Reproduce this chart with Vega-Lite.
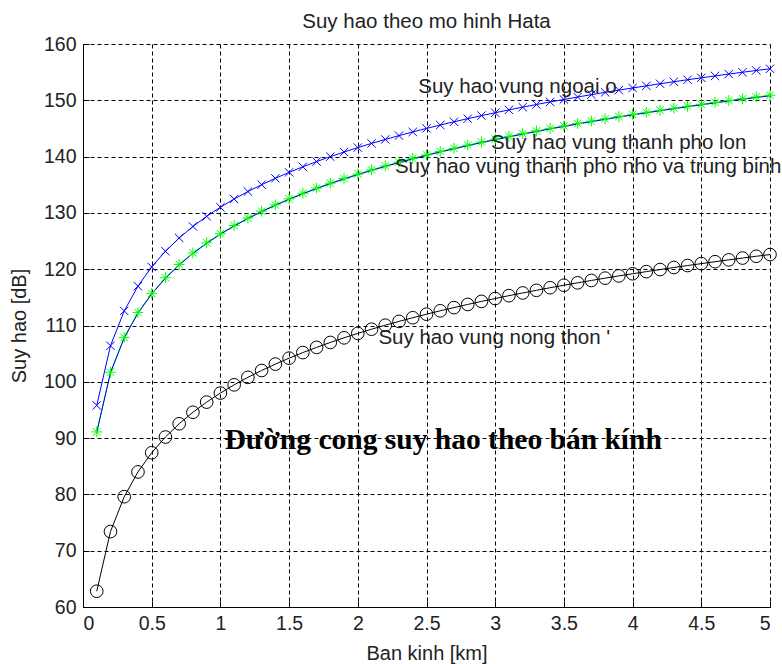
{
  "$schema": "https://vega.github.io/schema/vega-lite/v6.json",
  "width": 687,
  "height": 563,
  "autosize": {"type": "none"},
  "padding": {"left": 83, "top": 44, "right": 12, "bottom": 57},
  "background": "white",
  "title": {"text": "Suy hao theo mo hinh Hata", "font": "Liberation Sans", "fontSize": 20.5, "fontWeight": "normal", "color": "#222222", "offset": 2, "anchor": "middle"},
  "config": {
    "view": {"stroke": null},
    "axis": {
      "domainColor": "black", "domainWidth": 1, "tickColor": "black", "tickSize": -6,
      "labelFont": "Liberation Sans", "labelFontSize": 19.5, "labelColor": "#222222",
      "titleFont": "Liberation Sans", "titleFontSize": 20, "titleFontWeight": "normal", "titleColor": "#222222",
      "gridColor": "black", "gridDash": [4, 3], "gridOpacity": 1, "gridWidth": 1
    }
  },
  "datasets": {
    "curves": [
      {"d": 0.1, "ngoai": 95.8, "lon": 91.0, "nho": 91.1, "nong": 62.8},
      {"d": 0.2, "ngoai": 106.4, "lon": 101.6, "nho": 101.7, "nong": 73.4},
      {"d": 0.3, "ngoai": 112.59, "lon": 107.79, "nho": 107.89, "nong": 79.59},
      {"d": 0.4, "ngoai": 116.99, "lon": 112.19, "nho": 112.29, "nong": 83.99},
      {"d": 0.5, "ngoai": 120.4, "lon": 115.6, "nho": 115.7, "nong": 87.4},
      {"d": 0.6, "ngoai": 123.19, "lon": 118.39, "nho": 118.49, "nong": 90.19},
      {"d": 0.7, "ngoai": 125.55, "lon": 120.75, "nho": 120.85, "nong": 92.55},
      {"d": 0.8, "ngoai": 127.59, "lon": 122.79, "nho": 122.89, "nong": 94.59},
      {"d": 0.9, "ngoai": 129.39, "lon": 124.59, "nho": 124.69, "nong": 96.39},
      {"d": 1.0, "ngoai": 131.0, "lon": 126.2, "nho": 126.3, "nong": 98.0},
      {"d": 1.1, "ngoai": 132.46, "lon": 127.66, "nho": 127.76, "nong": 99.46},
      {"d": 1.2, "ngoai": 133.79, "lon": 128.99, "nho": 129.09, "nong": 100.79},
      {"d": 1.3, "ngoai": 135.01, "lon": 130.21, "nho": 130.31, "nong": 102.01},
      {"d": 1.4, "ngoai": 136.14, "lon": 131.34, "nho": 131.44, "nong": 103.14},
      {"d": 1.5, "ngoai": 137.2, "lon": 132.4, "nho": 132.5, "nong": 104.2},
      {"d": 1.6, "ngoai": 138.19, "lon": 133.39, "nho": 133.49, "nong": 105.19},
      {"d": 1.7, "ngoai": 139.11, "lon": 134.31, "nho": 134.41, "nong": 106.11},
      {"d": 1.8, "ngoai": 139.99, "lon": 135.19, "nho": 135.29, "nong": 106.99},
      {"d": 1.9, "ngoai": 140.81, "lon": 136.01, "nho": 136.11, "nong": 107.81},
      {"d": 2.0, "ngoai": 141.6, "lon": 136.8, "nho": 136.9, "nong": 108.6},
      {"d": 2.1, "ngoai": 142.34, "lon": 137.54, "nho": 137.64, "nong": 109.34},
      {"d": 2.2, "ngoai": 143.05, "lon": 138.25, "nho": 138.35, "nong": 110.05},
      {"d": 2.3, "ngoai": 143.73, "lon": 138.93, "nho": 139.03, "nong": 110.73},
      {"d": 2.4, "ngoai": 144.38, "lon": 139.58, "nho": 139.68, "nong": 111.38},
      {"d": 2.5, "ngoai": 145.01, "lon": 140.21, "nho": 140.31, "nong": 112.01},
      {"d": 2.6, "ngoai": 145.61, "lon": 140.81, "nho": 140.91, "nong": 112.61},
      {"d": 2.7, "ngoai": 146.18, "lon": 141.38, "nho": 141.48, "nong": 113.18},
      {"d": 2.8, "ngoai": 146.74, "lon": 141.94, "nho": 142.04, "nong": 113.74},
      {"d": 2.9, "ngoai": 147.28, "lon": 142.48, "nho": 142.58, "nong": 114.28},
      {"d": 3.0, "ngoai": 147.79, "lon": 142.99, "nho": 143.09, "nong": 114.79},
      {"d": 3.1, "ngoai": 148.3, "lon": 143.5, "nho": 143.6, "nong": 115.3},
      {"d": 3.2, "ngoai": 148.78, "lon": 143.98, "nho": 144.08, "nong": 115.78},
      {"d": 3.3, "ngoai": 149.25, "lon": 144.45, "nho": 144.55, "nong": 116.25},
      {"d": 3.4, "ngoai": 149.71, "lon": 144.91, "nho": 145.01, "nong": 116.71},
      {"d": 3.5, "ngoai": 150.15, "lon": 145.35, "nho": 145.45, "nong": 117.15},
      {"d": 3.6, "ngoai": 150.58, "lon": 145.78, "nho": 145.88, "nong": 117.58},
      {"d": 3.7, "ngoai": 151.0, "lon": 146.2, "nho": 146.3, "nong": 118.0},
      {"d": 3.8, "ngoai": 151.41, "lon": 146.61, "nho": 146.71, "nong": 118.41},
      {"d": 3.9, "ngoai": 151.81, "lon": 147.01, "nho": 147.11, "nong": 118.81},
      {"d": 4.0, "ngoai": 152.19, "lon": 147.39, "nho": 147.49, "nong": 119.19},
      {"d": 4.1, "ngoai": 152.57, "lon": 147.77, "nho": 147.87, "nong": 119.57},
      {"d": 4.2, "ngoai": 152.94, "lon": 148.14, "nho": 148.24, "nong": 119.94},
      {"d": 4.3, "ngoai": 153.3, "lon": 148.5, "nho": 148.6, "nong": 120.3},
      {"d": 4.4, "ngoai": 153.65, "lon": 148.85, "nho": 148.95, "nong": 120.65},
      {"d": 4.5, "ngoai": 153.99, "lon": 149.19, "nho": 149.29, "nong": 120.99},
      {"d": 4.6, "ngoai": 154.33, "lon": 149.53, "nho": 149.63, "nong": 121.33},
      {"d": 4.7, "ngoai": 154.66, "lon": 149.86, "nho": 149.96, "nong": 121.66},
      {"d": 4.8, "ngoai": 154.98, "lon": 150.18, "nho": 150.28, "nong": 121.98},
      {"d": 4.9, "ngoai": 155.3, "lon": 150.5, "nho": 150.6, "nong": 122.3},
      {"d": 5.0, "ngoai": 155.6, "lon": 150.8, "nho": 150.9, "nong": 122.6}
    ],
    "labels": [
      {"x": 2.44, "y": 152.4, "t": "Suy hao vung ngoai o"},
      {"x": 2.97, "y": 142.4, "t": "Suy hao vung thanh pho lon"},
      {"x": 2.27, "y": 138.2, "t": "Suy hao vung thanh pho nho va trung binh"},
      {"x": 2.15, "y": 107.7, "t": "Suy hao vung nong thon '"}
    ],
    "bold": [
      {"x": 1.03, "y": 89.6, "t": "Đường cong suy hao theo bán kính"}
    ]
  },
  "layer": [
    {
      "data": {"name": "curves"},
      "transform": [{"fold": ["nho", "lon", "ngoai", "nong"], "as": ["s", "loss"]}],
      "mark": {"type": "line", "strokeWidth": 1, "clip": true},
      "encoding": {
        "x": {"field": "d", "type": "quantitative", "scale": {"domain": [0, 5], "nice": false},
              "axis": {"title": "Ban kinh [km]", "values": [0, 0.5, 1, 1.5, 2, 2.5, 3, 3.5, 4, 4.5, 5], "labelExpr": "'' + datum.value", "labelPadding": 13, "titlePadding": 11, "grid": true}},
        "y": {"field": "loss", "type": "quantitative", "scale": {"domain": [60, 160], "nice": false},
              "axis": {"title": "Suy hao [dB]", "values": [60, 70, 80, 90, 100, 110, 120, 130, 140, 150, 160], "labelPadding": 13, "titlePadding": 14, "grid": true}},
        "color": {"field": "s", "type": "nominal", "legend": null,
                  "scale": {"domain": ["ngoai", "lon", "nho", "nong"], "range": ["#0000ff", "#0000ff", "#00ff00", "#000000"]}},
        "detail": {"field": "s"},
        "order": {"field": "d", "type": "quantitative"}
      }
    },
    {
      "data": {"name": "curves"},
      "transform": [{"fold": ["nho", "ngoai", "nong"], "as": ["s", "loss"]}],
      "mark": {"type": "point", "filled": false, "strokeWidth": 1, "opacity": 1},
      "encoding": {
        "x": {"field": "d", "type": "quantitative"},
        "y": {"field": "loss", "type": "quantitative"},
        "color": {"field": "s", "type": "nominal", "legend": null},
        "shape": {"field": "s", "type": "nominal", "legend": null,
                  "scale": {"domain": ["ngoai", "nho", "nong"], "range": ["M-1,-1L1,1M-1,1L1,-1", "M-1,0L1,0M0,-1L0,1M-0.7,-0.7L0.7,0.7M-0.7,0.7L0.7,-0.7", "circle"]}},
        "size": {"field": "s", "type": "nominal", "legend": null,
                 "scale": {"domain": ["ngoai", "nho", "nong"], "range": [70, 160, 125]}}
      }
    },
    {
      "data": {"name": "labels"},
      "mark": {"type": "text", "align": "left", "baseline": "middle", "font": "Liberation Sans", "fontSize": 20.5, "color": "#222222", "clip": false},
      "encoding": {
        "x": {"field": "x", "type": "quantitative"},
        "y": {"field": "y", "type": "quantitative"},
        "text": {"field": "t"}
      }
    },
    {
      "data": {"name": "bold"},
      "mark": {"type": "text", "align": "left", "baseline": "middle", "font": "Liberation Serif", "fontSize": 29.5, "fontWeight": "bold", "color": "#000000"},
      "encoding": {
        "x": {"field": "x", "type": "quantitative"},
        "y": {"field": "y", "type": "quantitative"},
        "text": {"field": "t"}
      }
    }
  ]
}
